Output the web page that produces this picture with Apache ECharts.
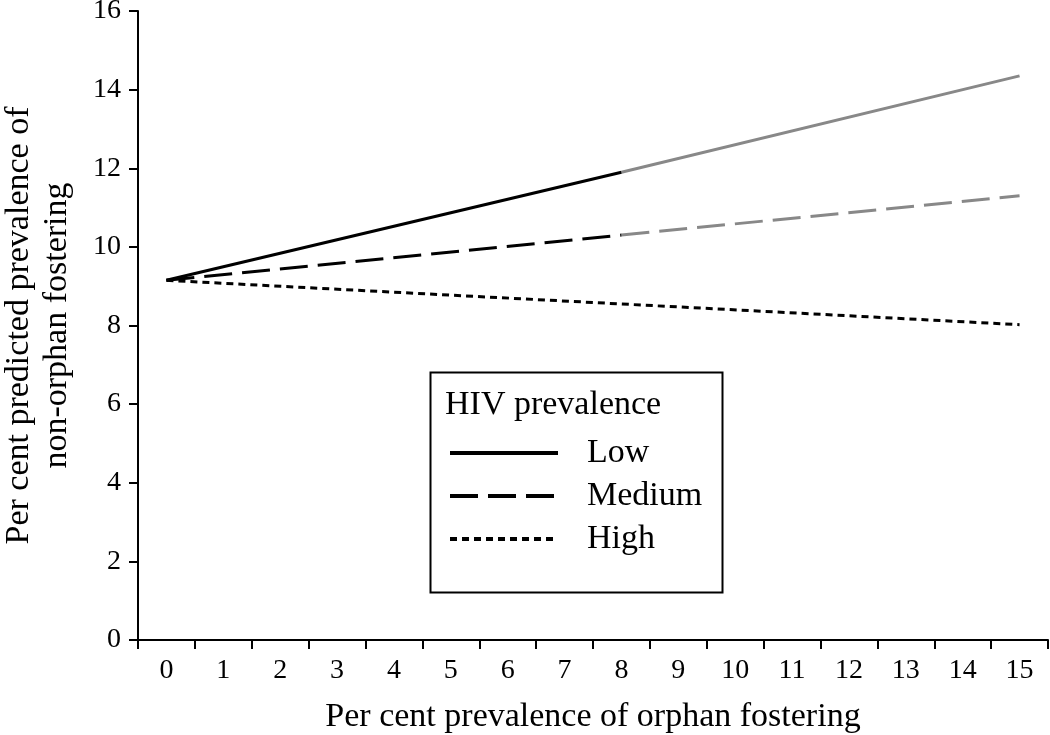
<!DOCTYPE html>
<html><head><meta charset="utf-8">
<script src="https://cdn.jsdelivr.net/npm/echarts@6/dist/echarts.min.js"></script>
<style>html,body{margin:0;padding:0;background:#fff}#c{width:1050px;height:735px}</style>
</head><body><div id="c"></div>
<script>
const categories = ['0','1','2','3','4','5','6','7','8','9','10','11','12','13','14','15'];
const lowObserved   = [9.15,null,null,null,null,null,null,null,11.9,null,null,null,null,null,null,null];
const lowProjected  = [null,null,null,null,null,null,null,null,11.9,null,null,null,null,null,null,14.35];
const medObserved   = [9.15,null,null,null,null,null,null,null,10.3,null,null,null,null,null,null,null];
const medProjected  = [null,null,null,null,null,null,null,null,10.3,null,null,null,null,null,null,11.3];
const highValues    = [9.15,null,null,null,null,null,null,null,null,null,null,null,null,null,null,8.02];
const yTicks = [0,2,4,6,8,10,12,14,16];

const FONT = '"Liberation Serif","Times New Roman",serif';
const chart = echarts.init(document.getElementById('c'));
function line(name, data, color, type, z){
  return {name, type:'line', data, connectNulls:true, symbol:'none', z:z||2,
    lineStyle:{color, width:3, type}, itemStyle:{color}, animation:false};
}
chart.setOption({
  backgroundColor:'#fff',
  grid:{left:138, right:2, top:11, bottom:95, containLabel:false, outerBoundsMode:'none'},
  xAxis:{type:'category', data:categories, boundaryGap:true,
    axisLine:{lineStyle:{color:'#000', width:2}},
    axisTick:{show:true, length:9, lineStyle:{color:'#000', width:2}},
    axisLabel:{color:'#000', fontFamily:FONT, fontSize:28, margin:17, interval:0},
    name:'Per cent prevalence of orphan fostering', nameLocation:'middle', nameGap:60,
    nameTextStyle:{color:'#000', fontFamily:FONT, fontSize:34},
    splitLine:{show:false}},
  yAxis:{type:'value', min:yTicks[0], max:yTicks[yTicks.length-1], interval:2,
    axisLine:{show:true, lineStyle:{color:'#000', width:2}},
    axisTick:{show:true, length:9, lineStyle:{color:'#000', width:2}},
    axisLabel:{color:'#000', fontFamily:FONT, fontSize:28, margin:17},
    splitLine:{show:false},
    name:'Per cent predicted prevalence of\nnon-orphan fostering', nameLocation:'middle', nameGap:62,
    nameTextStyle:{color:'#000', fontFamily:FONT, fontSize:34, lineHeight:38}},
  legend:{data:['Low','Medium','High'], orient:'vertical', left:448, top:436,
    itemWidth:108, itemHeight:14, itemGap:9,
    itemStyle:{color:'rgba(0,0,0,0)', borderWidth:0, opacity:0},
    lineStyle:{width:4},
    padding:0,
    textStyle:{color:'#000', fontFamily:FONT, fontSize:34, lineHeight:34, padding:[0,0,0,24]}},
  graphic:[
    {type:'rect', left:428, top:370, shape:{width:292, height:220}, style:{fill:'none', stroke:'#000', lineWidth:2}, z:0},
    {type:'text', left:445, top:388, style:{text:'HIV prevalence', fill:'#000', font:'34px '+FONT}}
  ],
  series:[
    line('Low', lowObserved, '#000', 'solid', 3),
    line('Low projected', lowProjected, '#888', 'solid'),
    line('Medium', medObserved, '#000', [28,10], 3),
    line('Medium projected', medProjected, '#888', [28,10]),
    line('High', highValues, '#000', [7,5])
  ]
});
</script></body></html>
